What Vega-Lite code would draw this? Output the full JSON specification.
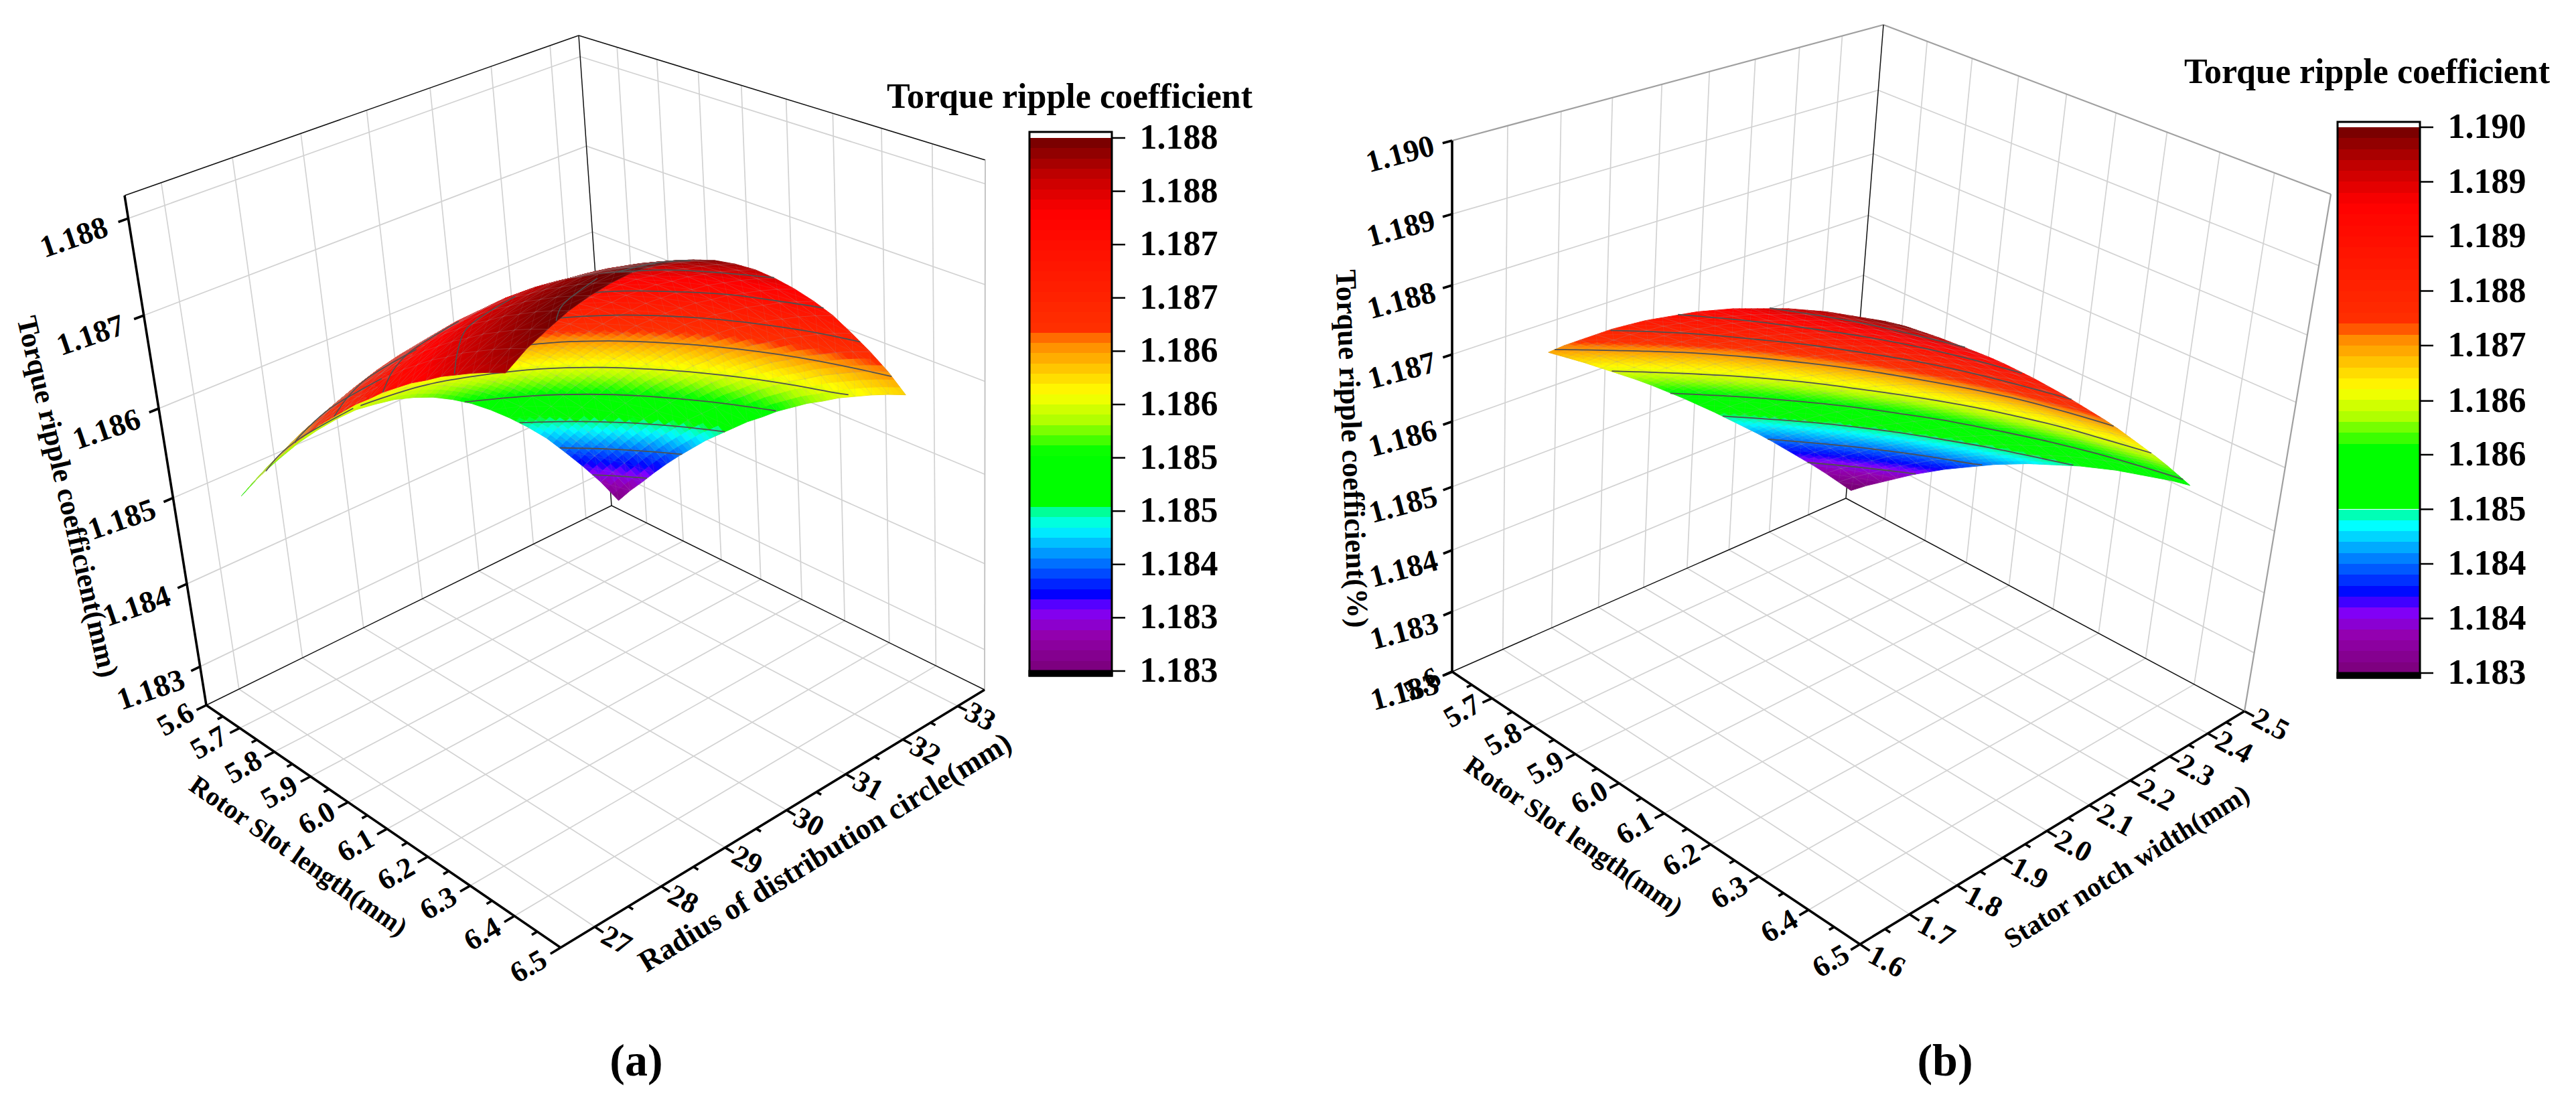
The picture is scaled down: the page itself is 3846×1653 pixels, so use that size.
{"$schema":"https://vega.github.io/schema/vega-lite/v6.json","width":3846,"height":1653,"padding":0,"autosize":"none","background":"white","config":{"view":{"stroke":null}},
"params":[
{"name":"K","value":{
"a":{"r":[1.2,0.876,1.12],"lo":[5.6,26.5,1.18252],"hi":[6.5,33.5,1.18823],"v0":33,"dv":-0.3,
"x":[308,837,913,1470,186,770,864,1471],"y":[1053,1415,755,1030,292,562,53,239],
"sty":{"grid":["#d2d2d2",1.7],"top":["#111111",1.6],"vr":["#c4c4c4",2],"edge":["#111111",1.5],"axis":["#000000",3.6]},
"bar":{"x0":1537,"x1":1660,"t":206,"b":1002,"lo":1.18295,"hi":1.18815,"top":197,"bot":1009,"step":0.0001},
"place":{"u":{"i":0,"p":[null,-0.075,0],"ang":-30,"fs":44},"v":{"i":1,"p":[1.06,null,0],"ang":28,"fs":44},"T":{"i":2,"p":[0,-0.12,null],"ang":-19,"fs":46},
"bar":{"xy":[0,0],"isBar":true,"ang":0,"fs":52},
"uTitle":{"xy":[445,1279],"ang":35,"fs":40},"vTitle":{"xy":[1232,1273],"ang":-31.4,"fs":45},"TTitle":{"xy":[100,742],"ang":77,"fs":43},"barTitle":{"xy":[1597,145],"ang":0,"fs":52},"cap":{"xy":[950,1586],"ang":0,"fs":68}}},
"b":{"r":[1.155,0.845,1.123],"lo":[5.6,1.6,1.182],"hi":[6.5,2.5,1.19],"v0":2.4,"dv":-0.035,
"x":[2168,2777,2756,3351,2168,2850,2812,3480],"y":[1003,1410,744,1062,210,552,37,290],
"sty":{"grid":["#d2d2d2",1.7],"top":["#a0a0a0",2.2],"vr":["#a0a0a0",2.2],"edge":["#111111",1.5],"axis":["#000000",3.6]},
"bar":{"x0":3490,"x1":3613,"t":190,"b":1005,"lo":1.183,"hi":1.19,"top":182,"bot":1012,"step":0.00014},
"place":{"u":{"i":0,"p":[null,-0.075,0],"ang":-30,"fs":44},"v":{"i":1,"p":[1.065,null,0],"ang":28,"fs":44},"T":{"i":2,"p":[0,-0.12,null],"ang":-15,"fs":46},
"bar":{"xy":[0,0],"isBar":true,"ang":0,"fs":52},
"uTitle":{"xy":[2349,1249],"ang":34.7,"fs":40},"vTitle":{"xy":[3176,1295],"ang":-32,"fs":41},"TTitle":{"xy":[2017,670],"ang":88,"fs":44},"barTitle":{"xy":[3534,108],"ang":0,"fs":52},"cap":{"xy":[2904,1586],"ang":0,"fs":68}}}}},
{"name":"PL","value":{
"floorU":{"i":0,"k":"grid","a":[null,0,0],"b":[null,1,0]},"wallU":{"i":0,"k":"grid","a":[null,1,0],"b":[null,1,1]},
"floorV":{"i":1,"k":"grid","a":[0,null,0],"b":[1,null,0]},"wallV":{"i":1,"k":"grid","a":[0,null,0],"b":[0,null,1]},
"wallTL":{"i":2,"k":"grid","a":[0,0,null],"b":[0,1,null]},"wallTR":{"i":2,"k":"grid","a":[0,1,null],"b":[1,1,null]},
"tickU":{"i":0,"k":"axis","a":[null,0,0],"b":[null,-0.024,0]},"minU":{"i":0,"k":"axis","a":[null,0,0],"b":[null,-0.013,0]},
"tickV":{"i":1,"k":"axis","a":[1,null,0],"b":[1.024,null,0]},"minV":{"i":1,"k":"axis","a":[1,null,0],"b":[1.013,null,0]},
"tickT":{"i":2,"k":"axis","a":[0,0,null],"b":[0,-0.022,null]},
"topL":{"i":-1,"k":"top","a":[0,0,1],"b":[0,1,1]},"topR":{"i":-1,"k":"top","a":[0,1,1],"b":[1,1,1]},"vertR":{"i":-1,"k":"vr","a":[1,1,0],"b":[1,1,1]},
"vertB":{"i":-1,"k":"edge","a":[0,1,0],"b":[0,1,1]},"backL":{"i":-1,"k":"edge","a":[0,0,0],"b":[0,1,0]},"backR":{"i":-1,"k":"edge","a":[0,1,0],"b":[1,1,0]},
"axisT":{"i":-1,"k":"axis","a":[0,0,0],"b":[0,0,1]},"axisU":{"i":-1,"k":"axis","a":[0,0,0],"b":[1,0,0]},"axisV":{"i":-1,"k":"axis","a":[1,0,0],"b":[1,1,0]}}}
],
"datasets":{"contours":[
{"panel":"a","branch":"far","level":1.18347,"u":[5.7,5.742,5.784],"v":[32.556,32.79,33]},
{"panel":"a","branch":"far","level":1.18399,"u":[5.7,5.77,5.84,5.882],"v":[32.016,32.442,32.808,33]},
{"panel":"a","branch":"far","level":1.18451,"u":[5.7,5.77,5.84,5.91,5.98,5.994],"v":[31.362,31.878,32.304,32.652,32.946,33]},
{"panel":"a","branch":"far","level":1.18503,"u":[5.7,5.77,5.84,5.91,5.98,6.05,6.12],"v":[30.492,31.194,31.722,32.13,32.46,32.748,32.988]},
{"panel":"a","branch":"far","level":1.18555,"u":[5.715,5.735,5.77,5.84,5.91,5.98,6.05,6.12,6.19,6.26,6.281],"v":[28.8,29.64,30.222,30.99,31.506,31.902,32.232,32.508,32.736,32.928,33]},
{"panel":"a","branch":"far","level":1.18607,"u":[5.805,5.84,5.91,5.98,6.05,6.12,6.19,6.26,6.33,6.4],"v":[28.8,29.85,30.69,31.224,31.62,31.95,32.22,32.442,32.616,32.76]},
{"panel":"a","branch":"far","level":1.18659,"u":[5.907,5.945,5.98,6.05,6.12,6.19,6.26,6.33,6.4],"v":[28.8,29.85,30.27,30.87,31.29,31.62,31.878,32.088,32.238]},
{"panel":"a","branch":"far","level":1.18711,"u":[6.022,6.05,6.12,6.19,6.26,6.33,6.4],"v":[28.8,29.61,30.39,30.84,31.2,31.44,31.65]},
{"panel":"a","branch":"far","level":1.18763,"u":[6.162,6.19,6.26,6.33,6.4],"v":[28.8,29.58,30.24,30.6,30.888]},
{"panel":"a","branch":"far","level":1.18815,"u":[6.344,6.372,6.4],"v":[28.8,29.4,29.64]},
{"panel":"a","branch":"near","level":1.18555,"u":[5.714,5.735,5.756,5.784],"v":[28.692,27.75,27.342,27]},
{"panel":"a","branch":"near","level":1.18607,"u":[5.805,5.826,5.847,5.875,5.879],"v":[28.692,27.81,27.42,27.024,27]},
{"panel":"a","branch":"near","level":1.18659,"u":[5.907,5.931,5.959,5.991],"v":[28.692,27.78,27.36,27]},
{"panel":"a","branch":"near","level":1.18711,"u":[6.022,6.05,6.078,6.12],"v":[28.692,27.78,27.39,27]},
{"panel":"a","branch":"near","level":1.18763,"u":[6.162,6.19,6.232,6.285],"v":[28.692,27.81,27.42,27.03]},
{"panel":"a","branch":"near","level":1.18815,"u":[6.344,6.372,6.4],"v":[28.692,27.99,27.72]},
{"panel":"b","branch":"far","level":1.1837,"u":[5.7,5.77,5.84,5.847],"v":[2.281,2.3405,2.3944,2.4]},
{"panel":"b","branch":"far","level":1.1844,"u":[5.7,5.77,5.84,5.91,5.98,5.99],"v":[2.1788,2.2411,2.2978,2.3482,2.3916,2.4]},
{"panel":"b","branch":"far","level":1.1851,"u":[5.7,5.77,5.84,5.91,5.98,6.05,6.12,6.176],"v":[2.0696,2.1361,2.197,2.2495,2.295,2.337,2.3727,2.4]},
{"panel":"b","branch":"far","level":1.1858,"u":[5.7,5.77,5.84,5.91,5.98,6.05,6.12,6.19,6.26,6.33,6.4],"v":[1.9506,2.0234,2.0878,2.1452,2.1935,2.2383,2.2754,2.309,2.337,2.3594,2.3783]},
{"panel":"b","branch":"far","level":1.18649,"u":[5.7,5.77,5.84,5.91,5.98,6.05,6.12,6.19,6.26,6.33,6.4],"v":[1.826,1.9037,1.9744,2.0353,2.0864,2.134,2.176,2.211,2.2404,2.2628,2.2838]},
{"panel":"b","branch":"far","level":1.1872,"u":[5.714,5.77,5.84,5.91,5.98,6.05,6.12,6.19,6.26,6.33,6.4],"v":[1.7,1.7679,1.847,1.9128,1.9695,2.0199,2.0626,2.1011,2.134,2.1585,2.1788]},
{"panel":"b","branch":"far","level":1.1879,"u":[5.8365,5.91,5.98,6.05,6.12,6.19,6.26,6.33,6.4],"v":[1.7,1.7805,1.8421,1.8981,1.945,1.987,2.0199,2.0465,2.0696]},
{"panel":"b","branch":"far","level":1.1886,"u":[5.9765,6.05,6.12,6.19,6.26,6.33,6.4],"v":[1.7,1.7644,1.8155,1.861,1.8981,1.9275,1.9506]},
{"panel":"b","branch":"far","level":1.1893,"u":[6.155,6.19,6.26,6.33,6.4],"v":[1.7,1.7224,1.7644,1.7959,1.8239]}
]},
"data":{"values":[
{"panel":"a","u":5.7,"T":[1.18299,1.18333,1.18363,1.18391,1.18418,1.18441,1.18462,1.18481,1.18498,1.18512,1.18524,1.18533,1.1854,1.18544,1.18547,1.18546,1.18543,1.18538,1.1853,1.18521,1.18508]},
{"panel":"a","u":5.735,"T":[1.1832,1.18354,1.18384,1.18412,1.18439,1.18462,1.18483,1.18502,1.18519,1.18533,1.18545,1.18554,1.18561,1.18565,1.18568,1.18567,1.18564,1.18559,1.18551,1.18542,1.18529]},
{"panel":"a","u":5.77,"T":[1.18339,1.18373,1.18403,1.18431,1.18458,1.18481,1.18502,1.18521,1.18538,1.18552,1.18564,1.18573,1.1858,1.18584,1.18587,1.18586,1.18583,1.18578,1.1857,1.18561,1.18548]},
{"panel":"a","u":5.805,"T":[1.18359,1.18393,1.18423,1.18451,1.18478,1.18501,1.18522,1.18541,1.18558,1.18572,1.18584,1.18593,1.186,1.18604,1.18607,1.18606,1.18603,1.18598,1.1859,1.18581,1.18568]},
{"panel":"a","u":5.84,"T":[1.18378,1.18412,1.18442,1.1847,1.18497,1.1852,1.18541,1.1856,1.18577,1.18591,1.18603,1.18612,1.18619,1.18623,1.18626,1.18625,1.18622,1.18617,1.18609,1.186,1.18587]},
{"panel":"a","u":5.875,"T":[1.18396,1.1843,1.1846,1.18488,1.18515,1.18538,1.18559,1.18578,1.18595,1.18609,1.18621,1.1863,1.18637,1.18641,1.18644,1.18643,1.1864,1.18635,1.18627,1.18618,1.18605]},
{"panel":"a","u":5.91,"T":[1.18413,1.18447,1.18477,1.18505,1.18532,1.18555,1.18576,1.18595,1.18612,1.18626,1.18638,1.18647,1.18654,1.18658,1.18661,1.1866,1.18657,1.18652,1.18644,1.18635,1.18622]},
{"panel":"a","u":5.945,"T":[1.1843,1.18464,1.18494,1.18522,1.18549,1.18572,1.18593,1.18612,1.18629,1.18643,1.18655,1.18664,1.18671,1.18675,1.18678,1.18677,1.18674,1.18669,1.18661,1.18652,1.18639]},
{"panel":"a","u":5.98,"T":[1.18445,1.18479,1.18509,1.18537,1.18564,1.18587,1.18608,1.18627,1.18644,1.18658,1.1867,1.18679,1.18686,1.1869,1.18693,1.18692,1.18689,1.18684,1.18676,1.18667,1.18654]},
{"panel":"a","u":6.015,"T":[1.1846,1.18494,1.18524,1.18552,1.18579,1.18602,1.18623,1.18642,1.18659,1.18673,1.18685,1.18694,1.18701,1.18705,1.18708,1.18707,1.18704,1.18699,1.18691,1.18682,1.18669]},
{"panel":"a","u":6.05,"T":[1.18475,1.18509,1.18539,1.18567,1.18594,1.18617,1.18638,1.18657,1.18674,1.18688,1.187,1.18709,1.18716,1.1872,1.18723,1.18722,1.18719,1.18714,1.18706,1.18697,1.18684]},
{"panel":"a","u":6.085,"T":[1.18488,1.18522,1.18552,1.1858,1.18607,1.1863,1.18651,1.1867,1.18687,1.18701,1.18713,1.18722,1.18729,1.18733,1.18736,1.18735,1.18732,1.18727,1.18719,1.1871,1.18697]},
{"panel":"a","u":6.12,"T":[1.18502,1.18536,1.18566,1.18594,1.18621,1.18644,1.18665,1.18684,1.18701,1.18715,1.18727,1.18736,1.18743,1.18747,1.1875,1.18749,1.18746,1.18741,1.18733,1.18724,1.18711]},
{"panel":"a","u":6.155,"T":[1.18514,1.18548,1.18578,1.18606,1.18633,1.18656,1.18677,1.18696,1.18713,1.18727,1.18739,1.18748,1.18755,1.18759,1.18762,1.18761,1.18758,1.18753,1.18745,1.18736,1.18723]},
{"panel":"a","u":6.19,"T":[1.18526,1.1856,1.1859,1.18618,1.18645,1.18668,1.18689,1.18708,1.18725,1.18739,1.18751,1.1876,1.18767,1.18771,1.18774,1.18773,1.1877,1.18765,1.18757,1.18748,1.18735]},
{"panel":"a","u":6.225,"T":[1.18536,1.1857,1.186,1.18628,1.18655,1.18678,1.18699,1.18718,1.18735,1.18749,1.18761,1.1877,1.18777,1.18781,1.18784,1.18783,1.1878,1.18775,1.18767,1.18758,1.18745]},
{"panel":"a","u":6.26,"T":[1.18547,1.18581,1.18611,1.18639,1.18666,1.18689,1.1871,1.18729,1.18746,1.1876,1.18772,1.18781,1.18788,1.18792,1.18795,1.18794,1.18791,1.18786,1.18778,1.18769,1.18756]},
{"panel":"a","u":6.295,"T":[1.18556,1.1859,1.1862,1.18648,1.18675,1.18698,1.18719,1.18738,1.18755,1.18769,1.18781,1.1879,1.18797,1.18801,1.18804,1.18803,1.188,1.18795,1.18787,1.18778,1.18765]},
{"panel":"a","u":6.33,"T":[1.18565,1.18599,1.18629,1.18657,1.18684,1.18707,1.18728,1.18747,1.18764,1.18778,1.1879,1.18799,1.18806,1.1881,1.18813,1.18812,1.18809,1.18804,1.18796,1.18787,1.18774]},
{"panel":"a","u":6.365,"T":[1.18573,1.18607,1.18637,1.18665,1.18692,1.18715,1.18736,1.18755,1.18772,1.18786,1.18798,1.18807,1.18814,1.18818,1.18821,1.1882,1.18817,1.18812,1.18804,1.18795,1.18782]},
{"panel":"a","u":6.4,"T":[1.1858,1.18614,1.18644,1.18672,1.18699,1.18722,1.18743,1.18762,1.18779,1.18793,1.18805,1.18814,1.18821,1.18825,1.18828,1.18827,1.18824,1.18819,1.18811,1.18802,1.18789]},
{"panel":"b","u":5.7,"T":[1.18284,1.1831,1.18336,1.18361,1.18385,1.18409,1.18433,1.18456,1.18478,1.185,1.18522,1.18543,1.18564,1.18584,1.18604,1.18623,1.18641,1.18659,1.18677,1.18694,1.18711]},
{"panel":"b","u":5.735,"T":[1.18306,1.18332,1.18358,1.18383,1.18407,1.18431,1.18455,1.18478,1.185,1.18522,1.18544,1.18565,1.18586,1.18606,1.18626,1.18645,1.18663,1.18681,1.18699,1.18716,1.18733]},
{"panel":"b","u":5.77,"T":[1.18326,1.18352,1.18378,1.18403,1.18427,1.18451,1.18475,1.18498,1.1852,1.18542,1.18564,1.18585,1.18606,1.18626,1.18646,1.18665,1.18683,1.18701,1.18719,1.18736,1.18753]},
{"panel":"b","u":5.805,"T":[1.18346,1.18372,1.18398,1.18423,1.18447,1.18471,1.18495,1.18518,1.1854,1.18562,1.18584,1.18605,1.18626,1.18646,1.18666,1.18685,1.18703,1.18721,1.18739,1.18756,1.18773]},
{"panel":"b","u":5.84,"T":[1.18366,1.18392,1.18418,1.18443,1.18467,1.18491,1.18515,1.18538,1.1856,1.18582,1.18604,1.18625,1.18646,1.18666,1.18686,1.18705,1.18723,1.18741,1.18759,1.18776,1.18793]},
{"panel":"b","u":5.875,"T":[1.18384,1.1841,1.18436,1.18461,1.18485,1.18509,1.18533,1.18556,1.18578,1.186,1.18622,1.18643,1.18664,1.18684,1.18704,1.18723,1.18741,1.18759,1.18777,1.18794,1.18811]},
{"panel":"b","u":5.91,"T":[1.18402,1.18428,1.18454,1.18479,1.18503,1.18527,1.18551,1.18574,1.18596,1.18618,1.1864,1.18661,1.18682,1.18702,1.18722,1.18741,1.18759,1.18777,1.18795,1.18812,1.18829]},
{"panel":"b","u":5.945,"T":[1.18418,1.18444,1.1847,1.18495,1.18519,1.18543,1.18567,1.1859,1.18612,1.18634,1.18656,1.18677,1.18698,1.18718,1.18738,1.18757,1.18775,1.18793,1.18811,1.18828,1.18845]},
{"panel":"b","u":5.98,"T":[1.18434,1.1846,1.18486,1.18511,1.18535,1.18559,1.18583,1.18606,1.18628,1.1865,1.18672,1.18693,1.18714,1.18734,1.18754,1.18773,1.18791,1.18809,1.18827,1.18844,1.18861]},
{"panel":"b","u":6.015,"T":[1.1845,1.18476,1.18502,1.18527,1.18551,1.18575,1.18599,1.18622,1.18644,1.18666,1.18688,1.18709,1.1873,1.1875,1.1877,1.18789,1.18807,1.18825,1.18843,1.1886,1.18877]},
{"panel":"b","u":6.05,"T":[1.18464,1.1849,1.18516,1.18541,1.18565,1.18589,1.18613,1.18636,1.18658,1.1868,1.18702,1.18723,1.18744,1.18764,1.18784,1.18803,1.18821,1.18839,1.18857,1.18874,1.18891]},
{"panel":"b","u":6.085,"T":[1.18478,1.18504,1.1853,1.18555,1.18579,1.18603,1.18627,1.1865,1.18672,1.18694,1.18716,1.18737,1.18758,1.18778,1.18798,1.18817,1.18835,1.18853,1.18871,1.18888,1.18905]},
{"panel":"b","u":6.12,"T":[1.1849,1.18516,1.18542,1.18567,1.18591,1.18615,1.18639,1.18662,1.18684,1.18706,1.18728,1.18749,1.1877,1.1879,1.1881,1.18829,1.18847,1.18865,1.18883,1.189,1.18917]},
{"panel":"b","u":6.155,"T":[1.18502,1.18528,1.18554,1.18579,1.18603,1.18627,1.18651,1.18674,1.18696,1.18718,1.1874,1.18761,1.18782,1.18802,1.18822,1.18841,1.18859,1.18877,1.18895,1.18912,1.18929]},
{"panel":"b","u":6.19,"T":[1.18514,1.1854,1.18566,1.18591,1.18615,1.18639,1.18663,1.18686,1.18708,1.1873,1.18752,1.18773,1.18794,1.18814,1.18834,1.18853,1.18871,1.18889,1.18907,1.18924,1.18941]},
{"panel":"b","u":6.225,"T":[1.18524,1.1855,1.18576,1.18601,1.18625,1.18649,1.18673,1.18696,1.18718,1.1874,1.18762,1.18783,1.18804,1.18824,1.18844,1.18863,1.18881,1.18899,1.18917,1.18934,1.18951]},
{"panel":"b","u":6.26,"T":[1.18534,1.1856,1.18586,1.18611,1.18635,1.18659,1.18683,1.18706,1.18728,1.1875,1.18772,1.18793,1.18814,1.18834,1.18854,1.18873,1.18891,1.18909,1.18927,1.18944,1.18961]},
{"panel":"b","u":6.295,"T":[1.18542,1.18568,1.18594,1.18619,1.18643,1.18667,1.18691,1.18714,1.18736,1.18758,1.1878,1.18801,1.18822,1.18842,1.18862,1.18881,1.18899,1.18917,1.18935,1.18952,1.18969]},
{"panel":"b","u":6.33,"T":[1.1855,1.18576,1.18602,1.18627,1.18651,1.18675,1.18699,1.18722,1.18744,1.18766,1.18788,1.18809,1.1883,1.1885,1.1887,1.18889,1.18907,1.18925,1.18943,1.1896,1.18977]},
{"panel":"b","u":6.365,"T":[1.18558,1.18584,1.1861,1.18635,1.18659,1.18683,1.18707,1.1873,1.18752,1.18774,1.18796,1.18817,1.18838,1.18858,1.18878,1.18897,1.18915,1.18933,1.18951,1.18968,1.18985]},
{"panel":"b","u":6.4,"T":[1.18564,1.1859,1.18616,1.18641,1.18665,1.18689,1.18713,1.18736,1.18758,1.1878,1.18802,1.18823,1.18844,1.18864,1.18884,1.18903,1.18921,1.18939,1.18957,1.18974,1.18991]}
]},
"transform":[
{"flatten":["T"]},
{"window":[{"op":"row_number","as":"j"}],"groupby":["panel","u"]},
{"calculate":"K[datum.panel]","as":"c"},
{"calculate":"(datum.u-datum.c.lo[0])/(datum.c.hi[0]-datum.c.lo[0])","as":"nu"},
{"calculate":"(datum.c.v0+(datum.j-1)*datum.c.dv-datum.c.lo[1])/(datum.c.hi[1]-datum.c.lo[1])","as":"nv"},
{"calculate":"(datum.T-datum.c.lo[2])/(datum.c.hi[2]-datum.c.lo[2])","as":"nw"},
{"calculate":"datum.nu/(datum.nu+(1-datum.nu)*datum.c.r[0])","as":"U"},
{"calculate":"datum.nv/(datum.nv+(1-datum.nv)*datum.c.r[1])","as":"V"},
{"calculate":"datum.nw/(datum.nw+(1-datum.nw)*datum.c.r[2])","as":"W"},
{"calculate":"(1-datum.W)*((1-datum.U)*((1-datum.V)*datum.c.x[0]+datum.V*datum.c.x[2])+datum.U*((1-datum.V)*datum.c.x[1]+datum.V*datum.c.x[3]))+datum.W*((1-datum.U)*((1-datum.V)*datum.c.x[4]+datum.V*datum.c.x[6])+datum.U*((1-datum.V)*datum.c.x[5]+datum.V*datum.c.x[7]))","as":"X"},
{"calculate":"(1-datum.W)*((1-datum.U)*((1-datum.V)*datum.c.y[0]+datum.V*datum.c.y[2])+datum.U*((1-datum.V)*datum.c.y[1]+datum.V*datum.c.y[3]))+datum.W*((1-datum.U)*((1-datum.V)*datum.c.y[4]+datum.V*datum.c.y[6])+datum.U*((1-datum.V)*datum.c.y[5]+datum.V*datum.c.y[7]))","as":"Y"},
{"window":[{"op":"lead","field":"X","param":1,"as":"X1"},{"op":"lead","field":"Y","param":1,"as":"Y1"},{"op":"lead","field":"T","param":1,"as":"T1"},{"op":"lead","field":"X","param":21,"as":"X2"},{"op":"lead","field":"Y","param":21,"as":"Y2"},{"op":"lead","field":"T","param":21,"as":"T2"},{"op":"lead","field":"X","param":22,"as":"X3"},{"op":"lead","field":"Y","param":22,"as":"Y3"},{"op":"lead","field":"T","param":22,"as":"T3"}],"groupby":["panel"]},
{"filter":"datum.j<21 && datum.X2!=null"},
{"calculate":"{type:'MultiLineString',coordinates:[[[datum.X,datum.Y],[datum.X1,datum.Y1],[datum.X3,datum.Y3],[datum.X2,datum.Y2],[datum.X,datum.Y]],[[datum.X,datum.Y],[datum.X3,datum.Y3]],[[datum.X1,datum.Y1],[datum.X2,datum.Y2]]]}","as":"mesh"},
{"calculate":"datum.X2-datum.X","as":"ax"},{"calculate":"datum.X1-datum.X","as":"bx"},{"calculate":"datum.X+datum.X3-datum.X1-datum.X2","as":"cx"},
{"calculate":"datum.Y2-datum.Y","as":"ay"},{"calculate":"datum.Y1-datum.Y","as":"by"},{"calculate":"datum.Y+datum.Y3-datum.Y1-datum.Y2","as":"cy"},
{"calculate":"[0,1,2]","as":"sa"},{"flatten":["sa"]},
{"calculate":"[0,1,2]","as":"sb"},{"flatten":["sb"]},
{"calculate":"datum.sa/3","as":"a0"},{"calculate":"(datum.sa+1)/3","as":"a1"},{"calculate":"datum.sb/3","as":"b0"},{"calculate":"(datum.sb+1)/3","as":"b1"},
{"calculate":"[datum.X+datum.a0*datum.ax+datum.b0*datum.bx+datum.a0*datum.b0*datum.cx,datum.Y+datum.a0*datum.ay+datum.b0*datum.by+datum.a0*datum.b0*datum.cy]","as":"q0"},
{"calculate":"[datum.X+datum.a0*datum.ax+datum.b1*datum.bx+datum.a0*datum.b1*datum.cx,datum.Y+datum.a0*datum.ay+datum.b1*datum.by+datum.a0*datum.b1*datum.cy]","as":"q1"},
{"calculate":"[datum.X+datum.a1*datum.ax+datum.b1*datum.bx+datum.a1*datum.b1*datum.cx,datum.Y+datum.a1*datum.ay+datum.b1*datum.by+datum.a1*datum.b1*datum.cy]","as":"q2"},
{"calculate":"[datum.X+datum.a1*datum.ax+datum.b0*datum.bx+datum.a1*datum.b0*datum.cx,datum.Y+datum.a1*datum.ay+datum.b0*datum.by+datum.a1*datum.b0*datum.cy]","as":"q3"},
{"calculate":"{type:'Polygon',coordinates:[[datum.q0,datum.q1,datum.q2,datum.q3,datum.q0]]}","as":"geo"},
{"calculate":"datum.T+(datum.a0+1/6)*(datum.T2-datum.T)+(datum.b0+1/6)*(datum.T1-datum.T)+(datum.a0+1/6)*(datum.b0+1/6)*(datum.T+datum.T3-datum.T1-datum.T2)","as":"Tm"},
{"calculate":"(datum.Tm-datum.c.bar.lo)/(datum.c.bar.hi-datum.c.bar.lo)","as":"Fr"}
],
"layer":[
{"data":{"values":[
{"panel":"a","seg":"floorU","val":[5.7,5.8,5.9,6.0,6.1,6.2,6.3,6.4]},{"panel":"a","seg":"wallU","val":[5.7,5.8,5.9,6.0,6.1,6.2,6.3,6.4]},
{"panel":"a","seg":"floorV","val":[27,28,29,30,31,32,33]},{"panel":"a","seg":"wallV","val":[27,28,29,30,31,32,33]},
{"panel":"a","seg":"wallTL","val":[1.183,1.184,1.185,1.186,1.187,1.188]},{"panel":"a","seg":"wallTR","val":[1.183,1.184,1.185,1.186,1.187,1.188]},
{"panel":"a","seg":"tickU","val":[5.6,5.7,5.8,5.9,6.0,6.1,6.2,6.3,6.4,6.5]},{"panel":"a","seg":"minU","val":[5.65,5.75,5.85,5.95,6.05,6.15,6.25,6.35,6.45]},
{"panel":"a","seg":"tickV","val":[27,28,29,30,31,32,33]},{"panel":"a","seg":"minV","val":[27.5,28.5,29.5,30.5,31.5,32.5]},
{"panel":"a","seg":"tickT","val":[1.183,1.184,1.185,1.186,1.187,1.188]},
{"panel":"a","seg":"topL","val":[0]},{"panel":"a","seg":"topR","val":[0]},{"panel":"a","seg":"vertR","val":[0]},{"panel":"a","seg":"vertB","val":[0]},{"panel":"a","seg":"backL","val":[0]},{"panel":"a","seg":"backR","val":[0]},{"panel":"a","seg":"axisT","val":[0]},{"panel":"a","seg":"axisU","val":[0]},{"panel":"a","seg":"axisV","val":[0]},
{"panel":"b","seg":"floorU","val":[5.7,5.8,5.9,6.0,6.1,6.2,6.3,6.4]},{"panel":"b","seg":"wallU","val":[5.7,5.8,5.9,6.0,6.1,6.2,6.3,6.4]},
{"panel":"b","seg":"floorV","val":[1.7,1.8,1.9,2.0,2.1,2.2,2.3,2.4]},{"panel":"b","seg":"wallV","val":[1.7,1.8,1.9,2.0,2.1,2.2,2.3,2.4]},
{"panel":"b","seg":"wallTL","val":[1.183,1.184,1.185,1.186,1.187,1.188,1.189]},{"panel":"b","seg":"wallTR","val":[1.183,1.184,1.185,1.186,1.187,1.188,1.189]},
{"panel":"b","seg":"tickU","val":[5.6,5.7,5.8,5.9,6.0,6.1,6.2,6.3,6.4,6.5]},{"panel":"b","seg":"minU","val":[5.65,5.75,5.85,5.95,6.05,6.15,6.25,6.35,6.45]},
{"panel":"b","seg":"tickV","val":[1.6,1.7,1.8,1.9,2.0,2.1,2.2,2.3,2.4,2.5]},{"panel":"b","seg":"minV","val":[1.65,1.75,1.85,1.95,2.05,2.15,2.25,2.35,2.45]},
{"panel":"b","seg":"tickT","val":[1.182,1.183,1.184,1.185,1.186,1.187,1.188,1.189,1.19]},
{"panel":"b","seg":"topL","val":[0]},{"panel":"b","seg":"topR","val":[0]},{"panel":"b","seg":"vertR","val":[0]},{"panel":"b","seg":"vertB","val":[0]},{"panel":"b","seg":"backL","val":[0]},{"panel":"b","seg":"backR","val":[0]},{"panel":"b","seg":"axisT","val":[0]},{"panel":"b","seg":"axisU","val":[0]},{"panel":"b","seg":"axisV","val":[0]}
]},
"transform":[
{"flatten":["val"]},
{"window":[{"op":"row_number","as":"id"}]},
{"calculate":"K[datum.panel]","as":"c"},
{"calculate":"PL[datum.seg]","as":"s"},
{"calculate":"datum.s.i<0?0:(datum.val-datum.c.lo[datum.s.i])/(datum.c.hi[datum.s.i]-datum.c.lo[datum.s.i])","as":"n"},
{"calculate":"datum.s.i<0?0:datum.n/(datum.n+(1-datum.n)*datum.c.r[datum.s.i])","as":"m"},
{"calculate":"datum.c.sty[datum.s.k][0]","as":"col"},
{"calculate":"datum.c.sty[datum.s.k][1]","as":"sw"},
{"calculate":"[0,1]","as":"end"},
{"flatten":["end"]},
{"calculate":"datum.end==0?datum.s.a:datum.s.b","as":"e"},
{"calculate":"datum.e[0]===null?datum.m:datum.e[0]","as":"U"},
{"calculate":"datum.e[1]===null?datum.m:datum.e[1]","as":"V"},
{"calculate":"datum.e[2]===null?datum.m:datum.e[2]","as":"W"},
{"calculate":"(1-datum.W)*((1-datum.U)*((1-datum.V)*datum.c.x[0]+datum.V*datum.c.x[2])+datum.U*((1-datum.V)*datum.c.x[1]+datum.V*datum.c.x[3]))+datum.W*((1-datum.U)*((1-datum.V)*datum.c.x[4]+datum.V*datum.c.x[6])+datum.U*((1-datum.V)*datum.c.x[5]+datum.V*datum.c.x[7]))","as":"X"},
{"calculate":"(1-datum.W)*((1-datum.U)*((1-datum.V)*datum.c.y[0]+datum.V*datum.c.y[2])+datum.U*((1-datum.V)*datum.c.y[1]+datum.V*datum.c.y[3]))+datum.W*((1-datum.U)*((1-datum.V)*datum.c.y[4]+datum.V*datum.c.y[6])+datum.U*((1-datum.V)*datum.c.y[5]+datum.V*datum.c.y[7]))","as":"Y"}
],
"mark":{"type":"line","strokeCap":"butt"},
"encoding":{"x":{"field":"X","type":"quantitative","scale":null,"axis":null},"y":{"field":"Y","type":"quantitative","scale":null,"axis":null},"detail":{"field":"id","type":"nominal"},"order":{"field":"end","type":"quantitative"},"stroke":{"field":"col","type":"nominal","scale":null,"legend":null},"strokeWidth":{"field":"sw","type":"quantitative","scale":null,"legend":null}}},
{"transform":[{"filter":"datum.panel=='b'||datum.j<=14"}],
"mark":{"type":"geoshape","strokeWidth":1},
"projection":{"type":"identity","scale":1,"translate":[0,0]},
"encoding":{"shape":{"field":"geo","type":"geojson"},
"color":{"field":"Fr","type":"quantitative","legend":null,"scale":{"domain":[0,0.07,0.115,0.145,0.21,0.27,0.305,0.31,0.41,0.47,0.52,0.56,0.62,0.64,0.86,0.93,1],"range":["#7a0078","#9300b0","#7f00ff","#0000ff","#0080ff","#00ffff","#00ff80","#00ff00","#00ff00","#b0ff00","#ffff00","#ffd000","#ff8000","#ff3000","#ff0000","#c00000","#700000"],"interpolate":"rgb","clamp":true}},
"stroke":{"field":"Fr","type":"quantitative","legend":null,"scale":{"domain":[0,0.07,0.115,0.145,0.21,0.27,0.305,0.31,0.41,0.47,0.52,0.56,0.62,0.64,0.86,0.93,1],"range":["#7a0078","#9300b0","#7f00ff","#0000ff","#0080ff","#00ffff","#00ff80","#00ff00","#00ff00","#b0ff00","#ffff00","#ffd000","#ff8000","#ff3000","#ff0000","#c00000","#700000"],"interpolate":"rgb","clamp":true}}}},
{"transform":[{"filter":"(datum.panel=='b'||datum.j<=14)&&datum.sa==0&&datum.sb==0"}],
"mark":{"type":"geoshape","filled":false,"fill":null,"stroke":"#a0a0a0","strokeOpacity":0.14,"strokeWidth":1},
"projection":{"type":"identity","scale":1,"translate":[0,0]},
"encoding":{"shape":{"field":"mesh","type":"geojson"}}},
{"data":{"name":"contours"},
"transform":[{"filter":"datum.branch=='far'"},{"calculate":"datum.panel+datum.level","as":"id"},{"flatten":["u","v"]},{"window":[{"op":"row_number","as":"idx"}]},
{"calculate":"K[datum.panel]","as":"c"},
{"calculate":"(datum.u-datum.c.lo[0])/(datum.c.hi[0]-datum.c.lo[0])","as":"nu"},
{"calculate":"(datum.v-datum.c.lo[1])/(datum.c.hi[1]-datum.c.lo[1])","as":"nv"},
{"calculate":"(datum.level-datum.c.lo[2])/(datum.c.hi[2]-datum.c.lo[2])","as":"nw"},
{"calculate":"datum.nu/(datum.nu+(1-datum.nu)*datum.c.r[0])","as":"U"},
{"calculate":"datum.nv/(datum.nv+(1-datum.nv)*datum.c.r[1])","as":"V"},
{"calculate":"datum.nw/(datum.nw+(1-datum.nw)*datum.c.r[2])","as":"W"},
{"calculate":"(1-datum.W)*((1-datum.U)*((1-datum.V)*datum.c.x[0]+datum.V*datum.c.x[2])+datum.U*((1-datum.V)*datum.c.x[1]+datum.V*datum.c.x[3]))+datum.W*((1-datum.U)*((1-datum.V)*datum.c.x[4]+datum.V*datum.c.x[6])+datum.U*((1-datum.V)*datum.c.x[5]+datum.V*datum.c.x[7]))","as":"X"},
{"calculate":"(1-datum.W)*((1-datum.U)*((1-datum.V)*datum.c.y[0]+datum.V*datum.c.y[2])+datum.U*((1-datum.V)*datum.c.y[1]+datum.V*datum.c.y[3]))+datum.W*((1-datum.U)*((1-datum.V)*datum.c.y[4]+datum.V*datum.c.y[6])+datum.U*((1-datum.V)*datum.c.y[5]+datum.V*datum.c.y[7]))","as":"Y"}],
"mark":{"type":"line","stroke":"#505050","strokeWidth":1.8,"interpolate":"catmull-rom"},
"encoding":{"x":{"field":"X","type":"quantitative","scale":null,"axis":null},"y":{"field":"Y","type":"quantitative","scale":null,"axis":null},"detail":{"field":"id","type":"nominal"},"order":{"field":"idx","type":"quantitative"}}},
{"transform":[{"filter":"datum.panel=='a'&&datum.j>14"}],
"mark":{"type":"geoshape","strokeWidth":1},
"projection":{"type":"identity","scale":1,"translate":[0,0]},
"encoding":{"shape":{"field":"geo","type":"geojson"},
"color":{"field":"Fr","type":"quantitative","legend":null,"scale":{"domain":[0,0.07,0.115,0.145,0.21,0.27,0.305,0.31,0.41,0.47,0.52,0.56,0.62,0.64,0.86,0.93,1],"range":["#7a0078","#9300b0","#7f00ff","#0000ff","#0080ff","#00ffff","#00ff80","#00ff00","#00ff00","#b0ff00","#ffff00","#ffd000","#ff8000","#ff3000","#ff0000","#c00000","#700000"],"interpolate":"rgb","clamp":true}},
"stroke":{"field":"Fr","type":"quantitative","legend":null,"scale":{"domain":[0,0.07,0.115,0.145,0.21,0.27,0.305,0.31,0.41,0.47,0.52,0.56,0.62,0.64,0.86,0.93,1],"range":["#7a0078","#9300b0","#7f00ff","#0000ff","#0080ff","#00ffff","#00ff80","#00ff00","#00ff00","#b0ff00","#ffff00","#ffd000","#ff8000","#ff3000","#ff0000","#c00000","#700000"],"interpolate":"rgb","clamp":true}}}},
{"transform":[{"filter":"datum.panel=='a'&&datum.j>14&&datum.sa==0&&datum.sb==0"}],
"mark":{"type":"geoshape","filled":false,"fill":null,"stroke":"#a0a0a0","strokeOpacity":0.14,"strokeWidth":1},
"projection":{"type":"identity","scale":1,"translate":[0,0]},
"encoding":{"shape":{"field":"mesh","type":"geojson"}}},
{"data":{"name":"contours"},
"transform":[{"filter":"datum.branch=='near'"},{"calculate":"datum.panel+datum.level","as":"id"},{"flatten":["u","v"]},{"window":[{"op":"row_number","as":"idx"}]},
{"calculate":"K[datum.panel]","as":"c"},
{"calculate":"(datum.u-datum.c.lo[0])/(datum.c.hi[0]-datum.c.lo[0])","as":"nu"},
{"calculate":"(datum.v-datum.c.lo[1])/(datum.c.hi[1]-datum.c.lo[1])","as":"nv"},
{"calculate":"(datum.level-datum.c.lo[2])/(datum.c.hi[2]-datum.c.lo[2])","as":"nw"},
{"calculate":"datum.nu/(datum.nu+(1-datum.nu)*datum.c.r[0])","as":"U"},
{"calculate":"datum.nv/(datum.nv+(1-datum.nv)*datum.c.r[1])","as":"V"},
{"calculate":"datum.nw/(datum.nw+(1-datum.nw)*datum.c.r[2])","as":"W"},
{"calculate":"(1-datum.W)*((1-datum.U)*((1-datum.V)*datum.c.x[0]+datum.V*datum.c.x[2])+datum.U*((1-datum.V)*datum.c.x[1]+datum.V*datum.c.x[3]))+datum.W*((1-datum.U)*((1-datum.V)*datum.c.x[4]+datum.V*datum.c.x[6])+datum.U*((1-datum.V)*datum.c.x[5]+datum.V*datum.c.x[7]))","as":"X"},
{"calculate":"(1-datum.W)*((1-datum.U)*((1-datum.V)*datum.c.y[0]+datum.V*datum.c.y[2])+datum.U*((1-datum.V)*datum.c.y[1]+datum.V*datum.c.y[3]))+datum.W*((1-datum.U)*((1-datum.V)*datum.c.y[4]+datum.V*datum.c.y[6])+datum.U*((1-datum.V)*datum.c.y[5]+datum.V*datum.c.y[7]))","as":"Y"}],
"mark":{"type":"line","stroke":"#505050","strokeWidth":1.6,"interpolate":"catmull-rom"},
"encoding":{"x":{"field":"X","type":"quantitative","scale":null,"axis":null},"y":{"field":"Y","type":"quantitative","scale":null,"axis":null},"detail":{"field":"id","type":"nominal"},"order":{"field":"idx","type":"quantitative"}}},
{"data":{"values":[
{"panel":"a","T":[1.18295,1.18305,1.18315,1.18325,1.18335,1.18345,1.18355,1.18365,1.18375,1.18385,1.18395,1.18405,1.18415,1.18425,1.18435,1.18445,1.18455,1.18465,1.18475,1.18485,1.18495,1.18505,1.18515,1.18525,1.18535,1.18545,1.18555,1.18565,1.18575,1.18585,1.18595,1.18605,1.18615,1.18625,1.18635,1.18645,1.18655,1.18665,1.18675,1.18685,1.18695,1.18705,1.18715,1.18725,1.18735,1.18745,1.18755,1.18765,1.18775,1.18785,1.18795,1.18805]},
{"panel":"b","T":[1.183,1.18314,1.18328,1.18342,1.18356,1.1837,1.18384,1.18398,1.18412,1.18426,1.1844,1.18454,1.18468,1.18482,1.18496,1.1851,1.18524,1.18538,1.18552,1.18566,1.1858,1.18594,1.18608,1.18622,1.18636,1.1865,1.18664,1.18678,1.18692,1.18706,1.1872,1.18734,1.18748,1.18762,1.18776,1.1879,1.18804,1.18818,1.18832,1.18846,1.1886,1.18874,1.18888,1.18902,1.18916,1.1893,1.18944,1.18958,1.18972,1.18986]}
]},
"transform":[{"flatten":["T"]},{"calculate":"K[datum.panel].bar","as":"bar"},{"calculate":"datum.bar.x0","as":"X"},{"calculate":"datum.bar.x1","as":"X2"},
{"calculate":"round(datum.bar.t+(datum.bar.hi-datum.T-datum.bar.step)/(datum.bar.hi-datum.bar.lo)*(datum.bar.b-datum.bar.t))","as":"Y"},
{"calculate":"round(datum.bar.t+(datum.bar.hi-datum.T)/(datum.bar.hi-datum.bar.lo)*(datum.bar.b-datum.bar.t))","as":"Y2"},
{"calculate":"(datum.T+datum.bar.step/2-datum.bar.lo)/(datum.bar.hi-datum.bar.lo)","as":"Fr"}],
"mark":{"type":"rect"},
"encoding":{"x":{"field":"X","type":"quantitative","scale":null,"axis":null},"x2":{"field":"X2"},"y":{"field":"Y","type":"quantitative","scale":null,"axis":null},"y2":{"field":"Y2"},
"color":{"field":"Fr","type":"quantitative","legend":null,"scale":{"domain":[0,0.07,0.115,0.145,0.21,0.27,0.305,0.31,0.41,0.47,0.52,0.56,0.62,0.64,0.86,0.93,1],"range":["#7a0078","#9300b0","#7f00ff","#0000ff","#0080ff","#00ffff","#00ff80","#00ff00","#00ff00","#b0ff00","#ffff00","#ffd000","#ff8000","#ff3000","#ff0000","#c00000","#700000"],"interpolate":"rgb","clamp":true}}}},
{"data":{"values":[{"panel":"a","part":"foot"},{"panel":"b","part":"foot"},{"panel":"a","part":"frame"},{"panel":"b","part":"frame"}]},
"transform":[{"calculate":"K[datum.panel].bar","as":"bar"},{"calculate":"datum.bar.x0","as":"X"},{"calculate":"datum.bar.x1","as":"X2"},{"calculate":"datum.part=='foot'?datum.bar.b:datum.bar.top","as":"Y"},{"calculate":"datum.bar.bot","as":"Y2"},{"calculate":"datum.part=='foot'?'#000000':'transparent'","as":"f"}],
"mark":{"type":"rect","stroke":"#000000","strokeWidth":3},
"encoding":{"x":{"field":"X","type":"quantitative","scale":null,"axis":null},"x2":{"field":"X2"},"y":{"field":"Y","type":"quantitative","scale":null,"axis":null},"y2":{"field":"Y2"},"fill":{"field":"f","type":"nominal","scale":null,"legend":null}}},
{"data":{"values":[{"panel":"a","T":[1.18295,1.18347,1.18399,1.18451,1.18503,1.18555,1.18607,1.18659,1.18711,1.18763,1.18815]},{"panel":"b","T":[1.183,1.1837,1.1844,1.1851,1.1858,1.18649,1.1872,1.1879,1.1886,1.1893,1.19]}]},
"transform":[{"flatten":["T"]},{"calculate":"K[datum.panel].bar","as":"bar"},{"calculate":"datum.bar.x1","as":"X"},{"calculate":"datum.bar.x1+20","as":"X2"},{"calculate":"datum.bar.t+(datum.bar.hi-datum.T)/(datum.bar.hi-datum.bar.lo)*(datum.bar.b-datum.bar.t)","as":"Y"}],
"mark":{"type":"rule","stroke":"#000000","strokeWidth":2.5},
"encoding":{"x":{"field":"X","type":"quantitative","scale":null,"axis":null},"x2":{"field":"X2"},"y":{"field":"Y","type":"quantitative","scale":null,"axis":null}}},
{"data":{"values":[
{"panel":"a","axis":"bar","val":1.18295,"label":"1.183"},{"panel":"a","axis":"bar","val":1.18347,"label":"1.183"},{"panel":"a","axis":"bar","val":1.18399,"label":"1.184"},{"panel":"a","axis":"bar","val":1.18451,"label":"1.185"},{"panel":"a","axis":"bar","val":1.18503,"label":"1.185"},{"panel":"a","axis":"bar","val":1.18555,"label":"1.186"},{"panel":"a","axis":"bar","val":1.18607,"label":"1.186"},{"panel":"a","axis":"bar","val":1.18659,"label":"1.187"},{"panel":"a","axis":"bar","val":1.18711,"label":"1.187"},{"panel":"a","axis":"bar","val":1.18763,"label":"1.188"},{"panel":"a","axis":"bar","val":1.18815,"label":"1.188"},
{"panel":"b","axis":"bar","val":1.183,"label":"1.183"},{"panel":"b","axis":"bar","val":1.1837,"label":"1.184"},{"panel":"b","axis":"bar","val":1.1844,"label":"1.184"},{"panel":"b","axis":"bar","val":1.1851,"label":"1.185"},{"panel":"b","axis":"bar","val":1.1858,"label":"1.186"},{"panel":"b","axis":"bar","val":1.18649,"label":"1.186"},{"panel":"b","axis":"bar","val":1.1872,"label":"1.187"},{"panel":"b","axis":"bar","val":1.1879,"label":"1.188"},{"panel":"b","axis":"bar","val":1.1886,"label":"1.189"},{"panel":"b","axis":"bar","val":1.1893,"label":"1.189"},{"panel":"b","axis":"bar","val":1.19,"label":"1.190"},
{"panel":"a","axis":"u","val":5.6,"label":"5.6"},{"panel":"a","axis":"u","val":5.7,"label":"5.7"},{"panel":"a","axis":"u","val":5.8,"label":"5.8"},{"panel":"a","axis":"u","val":5.9,"label":"5.9"},{"panel":"a","axis":"u","val":6.0,"label":"6.0"},{"panel":"a","axis":"u","val":6.1,"label":"6.1"},{"panel":"a","axis":"u","val":6.2,"label":"6.2"},{"panel":"a","axis":"u","val":6.3,"label":"6.3"},{"panel":"a","axis":"u","val":6.4,"label":"6.4"},{"panel":"a","axis":"u","val":6.5,"label":"6.5"},
{"panel":"a","axis":"v","val":27,"label":"27"},{"panel":"a","axis":"v","val":28,"label":"28"},{"panel":"a","axis":"v","val":29,"label":"29"},{"panel":"a","axis":"v","val":30,"label":"30"},{"panel":"a","axis":"v","val":31,"label":"31"},{"panel":"a","axis":"v","val":32,"label":"32"},{"panel":"a","axis":"v","val":33,"label":"33"},
{"panel":"a","axis":"T","val":1.183,"label":"1.183"},{"panel":"a","axis":"T","val":1.184,"label":"1.184"},{"panel":"a","axis":"T","val":1.185,"label":"1.185"},{"panel":"a","axis":"T","val":1.186,"label":"1.186"},{"panel":"a","axis":"T","val":1.187,"label":"1.187"},{"panel":"a","axis":"T","val":1.188,"label":"1.188"},
{"panel":"a","axis":"uTitle","label":"Rotor Slot length(mm)"},{"panel":"a","axis":"vTitle","label":"Radius of distribution circle(mm)"},{"panel":"a","axis":"TTitle","label":"Torque ripple coefficient(mm)"},{"panel":"a","axis":"barTitle","label":"Torque ripple coefficient"},{"panel":"a","axis":"cap","label":"(a)"},
{"panel":"b","axis":"u","val":5.6,"label":"5.6"},{"panel":"b","axis":"u","val":5.7,"label":"5.7"},{"panel":"b","axis":"u","val":5.8,"label":"5.8"},{"panel":"b","axis":"u","val":5.9,"label":"5.9"},{"panel":"b","axis":"u","val":6.0,"label":"6.0"},{"panel":"b","axis":"u","val":6.1,"label":"6.1"},{"panel":"b","axis":"u","val":6.2,"label":"6.2"},{"panel":"b","axis":"u","val":6.3,"label":"6.3"},{"panel":"b","axis":"u","val":6.4,"label":"6.4"},{"panel":"b","axis":"u","val":6.5,"label":"6.5"},
{"panel":"b","axis":"v","val":1.6,"label":"1.6"},{"panel":"b","axis":"v","val":1.7,"label":"1.7"},{"panel":"b","axis":"v","val":1.8,"label":"1.8"},{"panel":"b","axis":"v","val":1.9,"label":"1.9"},{"panel":"b","axis":"v","val":2.0,"label":"2.0"},{"panel":"b","axis":"v","val":2.1,"label":"2.1"},{"panel":"b","axis":"v","val":2.2,"label":"2.2"},{"panel":"b","axis":"v","val":2.3,"label":"2.3"},{"panel":"b","axis":"v","val":2.4,"label":"2.4"},{"panel":"b","axis":"v","val":2.5,"label":"2.5"},
{"panel":"b","axis":"T","val":1.182,"label":"1.183"},{"panel":"b","axis":"T","val":1.183,"label":"1.183"},{"panel":"b","axis":"T","val":1.184,"label":"1.184"},{"panel":"b","axis":"T","val":1.185,"label":"1.185"},{"panel":"b","axis":"T","val":1.186,"label":"1.186"},{"panel":"b","axis":"T","val":1.187,"label":"1.187"},{"panel":"b","axis":"T","val":1.188,"label":"1.188"},{"panel":"b","axis":"T","val":1.189,"label":"1.189"},{"panel":"b","axis":"T","val":1.19,"label":"1.190"},
{"panel":"b","axis":"uTitle","label":"Rotor Slot length(mm)"},{"panel":"b","axis":"vTitle","label":"Stator notch width(mm)"},{"panel":"b","axis":"TTitle","label":"Torque ripple coefficient(%)"},{"panel":"b","axis":"barTitle","label":"Torque ripple coefficient"},{"panel":"b","axis":"cap","label":"(b)"}
]},
"transform":[
{"calculate":"K[datum.panel]","as":"c"},
{"calculate":"datum.c.place[datum.axis]","as":"s"},
{"calculate":"datum.s.xy?0:(datum.val-datum.c.lo[datum.s.i])/(datum.c.hi[datum.s.i]-datum.c.lo[datum.s.i])","as":"n"},
{"calculate":"datum.s.xy?0:datum.n/(datum.n+(1-datum.n)*datum.c.r[datum.s.i])","as":"m"},
{"calculate":"datum.s.xy?0:(datum.s.p[0]===null?datum.m:datum.s.p[0])","as":"U"},
{"calculate":"datum.s.xy?0:(datum.s.p[1]===null?datum.m:datum.s.p[1])","as":"V"},
{"calculate":"datum.s.xy?0:(datum.s.p[2]===null?datum.m:datum.s.p[2])","as":"W"},
{"calculate":"datum.s.isBar?datum.c.bar.x1+100:datum.s.xy?datum.s.xy[0]:(1-datum.W)*((1-datum.U)*((1-datum.V)*datum.c.x[0]+datum.V*datum.c.x[2])+datum.U*((1-datum.V)*datum.c.x[1]+datum.V*datum.c.x[3]))+datum.W*((1-datum.U)*((1-datum.V)*datum.c.x[4]+datum.V*datum.c.x[6])+datum.U*((1-datum.V)*datum.c.x[5]+datum.V*datum.c.x[7]))","as":"X"},
{"calculate":"datum.s.isBar?datum.c.bar.t+(datum.c.bar.hi-datum.val)/(datum.c.bar.hi-datum.c.bar.lo)*(datum.c.bar.b-datum.c.bar.t):datum.s.xy?datum.s.xy[1]:(1-datum.W)*((1-datum.U)*((1-datum.V)*datum.c.y[0]+datum.V*datum.c.y[2])+datum.U*((1-datum.V)*datum.c.y[1]+datum.V*datum.c.y[3]))+datum.W*((1-datum.U)*((1-datum.V)*datum.c.y[4]+datum.V*datum.c.y[6])+datum.U*((1-datum.V)*datum.c.y[5]+datum.V*datum.c.y[7]))","as":"Y"},
{"calculate":"datum.s.ang","as":"ang"},{"calculate":"datum.s.fs","as":"fs"}
],
"mark":{"type":"text","font":"Liberation Serif","fontWeight":"bold","align":"center","baseline":"middle","color":"#000000"},
"encoding":{"x":{"field":"X","type":"quantitative","scale":null,"axis":null},"y":{"field":"Y","type":"quantitative","scale":null,"axis":null},"text":{"field":"label","type":"nominal"},"angle":{"field":"ang","type":"quantitative","scale":null,"legend":null},"size":{"field":"fs","type":"quantitative","scale":null,"legend":null}}}
],
"resolve":{"scale":{"stroke":"independent"}}}
